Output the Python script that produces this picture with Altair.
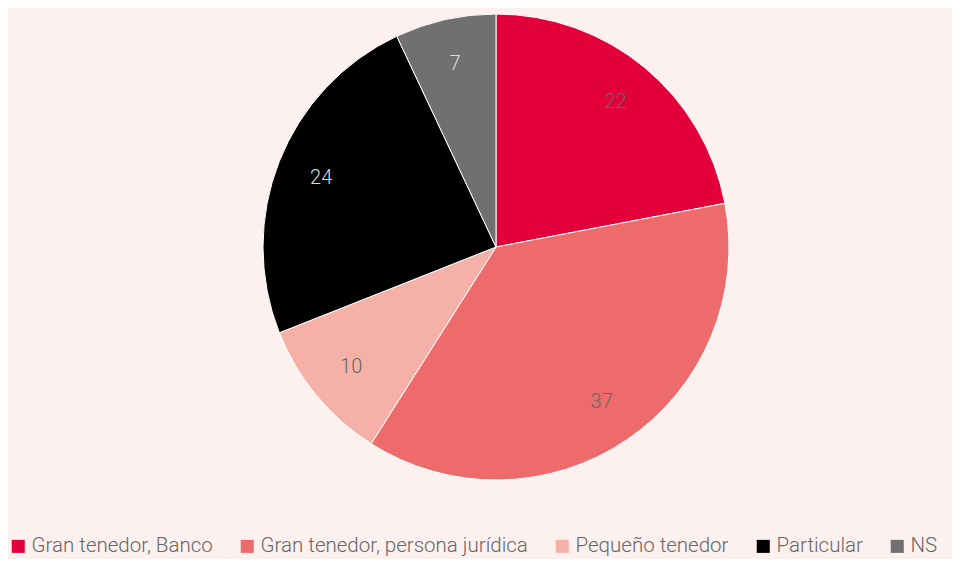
import altair as alt
import pandas as pd

categories = ["Gran tenedor, Banco", "Gran tenedor, persona jurídica", "Pequeño tenedor", "Particular", "NS"]
values = [22, 37, 10, 24, 7]
colors = ["#E3003A", "#ED6B6B", "#F5B0A8", "#000000", "#707070"]
label_colors = ["#666666", "#666666", "#666666", "#DDDDDD", "#DDDDDD"]

df = pd.DataFrame({
    "cat": categories,
    "val": values,
    "ord": list(range(len(categories))),
    "lc": label_colors,
})

cx, cy, R = 488, 239, 233

base = alt.Chart(df).encode(
    theta=alt.Theta("val:Q", stack=True),
    order=alt.Order("ord:Q"),
)

arcs = base.mark_arc(outerRadius=R, stroke="#FFFFFF", strokeWidth=1).encode(
    x=alt.value(cx), y=alt.value(cy),
    color=alt.Color(
        "cat:N",
        scale=alt.Scale(domain=categories, range=colors),
        sort=categories,
        legend=alt.Legend(
            title=None, orient="none", direction="horizontal",
            legendX=0, legendY=528,
            symbolType="square", symbolSize=170, symbolStrokeWidth=0,
            labelFont="Roboto", labelFontSize=20.5, labelFontWeight=300,
            labelColor="#666666", columnPadding=24, labelOffset=3,
            columns=5, labelLimit=400,
        ),
    ),
)

labels = base.mark_text(radius=188, font="Roboto", fontSize=20, fontWeight=300).encode(
    x=alt.value(cx), y=alt.value(cy),
    text=alt.Text("val:Q"),
    color=alt.Color("lc:N", scale=None),
)

chart = alt.layer(arcs, labels).properties(
    width=944, height=551,
    autosize=alt.AutoSizeParams(type="none"),
    padding=0,
    background="#FDF1EF",
).configure_view(stroke=None)

chart.save("out.html", embed_options={"renderer": "svg", "actions": False})
